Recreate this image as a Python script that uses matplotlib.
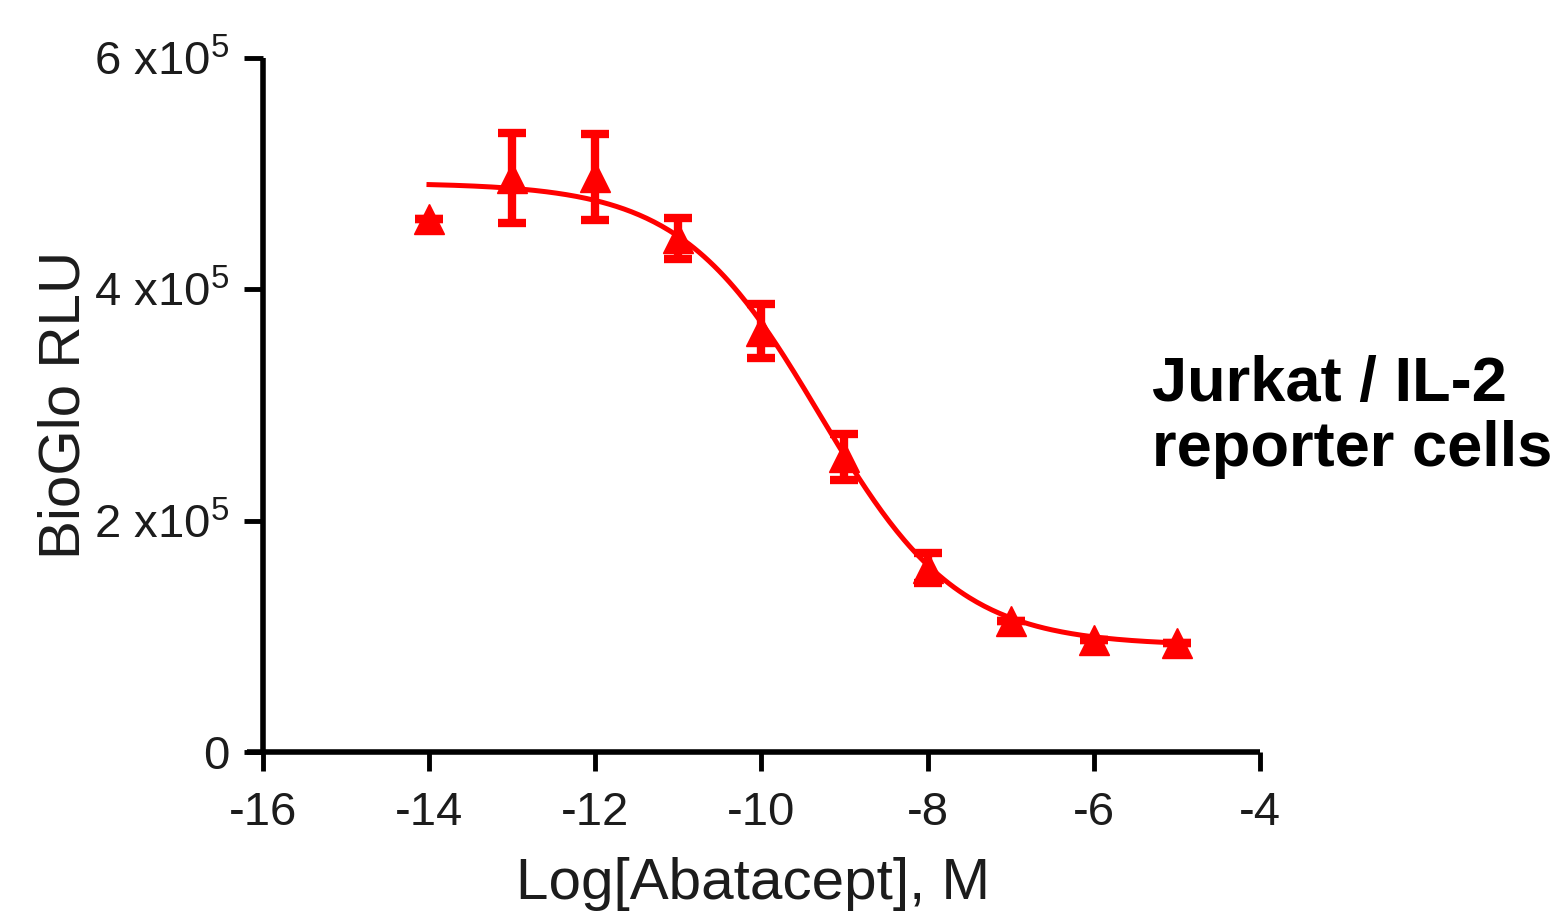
import matplotlib
matplotlib.use("Agg")
import matplotlib.pyplot as plt
import numpy as np

plt.rcParams['font.family'] = ['Liberation Sans', 'DejaVu Sans']
plt.rcParams['mathtext.fontset'] = 'custom'
plt.rcParams['mathtext.rm'] = 'Liberation Sans'
plt.rcParams['mathtext.default'] = 'regular'

# data
log_conc = [-14, -13, -12, -11, -10, -9, -8, -7, -6, -5]
rlu_mean = [4.61e5, 4.96e5, 4.97e5, 4.44e5, 3.64e5, 2.55e5, 1.59e5, 1.13e5, 0.97e5, 0.94e5]
rlu_err = [0, 0.39e5, 0.37e5, 0.18e5, 0.23e5, 0.20e5, 0.13e5, 0, 0, 0]

# 4PL fit parameters (top, bottom, logIC50, hill)
fit_top = 4.92e5
fit_bottom = 0.92e5
fit_logic50 = -9.3
fit_hill = 0.52

xticks = [-16, -14, -12, -10, -8, -6, -4]
xtick_labels = ['-16', '-14', '-12', '-10', '-8', '-6', '-4']
yticks = [0, 2e5, 4e5, 6e5]
ytick_labels = ['0', '2 x10$^5$', '4 x10$^5$', '6 x10$^5$']

red = '#ff0000'
ink = '#1c1c1c'

fig = plt.figure(figsize=(15.6, 9.18), dpi=100)
ax = fig.add_axes([247/1560, 1 - 752/918, (1260-247)/1560, (752-58)/918])

xfit = np.linspace(log_conc[0], log_conc[-1], 300)
yfit = fit_bottom + (fit_top - fit_bottom) / (1 + 10 ** ((xfit - fit_logic50) * fit_hill))
ax.plot(xfit, yfit, color=red, lw=3.6, zorder=2)

ax.errorbar(log_conc, rlu_mean, yerr=rlu_err, fmt='none', ecolor=red,
            elinewidth=6, capsize=10, capthick=6, zorder=3)
ax.plot(log_conc, rlu_mean, '^', color=red, markersize=22, zorder=4, clip_on=False)

ax.set_xlim(-16.19, -4)
ax.set_ylim(0, 6e5)
ax.spines['top'].set_visible(False)
ax.spines['right'].set_visible(False)
ax.spines['left'].set_position(('data', -16))
for s in ['left', 'bottom']:
    ax.spines[s].set_linewidth(4)
    ax.spines[s].set_capstyle('butt')

ax.set_xticks(xticks)
ax.set_xticklabels(xtick_labels)
ax.set_yticks(yticks)
ax.set_yticklabels(ytick_labels)
ax.tick_params(axis='both', length=14, width=3.5, direction='out', labelsize=34, color='black')
ax.tick_params(axis='x', pad=14)
ax.tick_params(axis='y', pad=10)
for lab in ax.get_xticklabels() + ax.get_yticklabels():
    lab.set_color(ink)

ax.set_xlabel('Log[Abatacept], M', fontsize=42, color=ink, labelpad=16)
ax.set_ylabel('BioGlo RLU', fontsize=42, color=ink, labelpad=2)

fig.text(1152/1560, 1 - 401/918, 'Jurkat / IL-2', fontsize=45.5, fontweight='bold',
         ha='left', va='baseline', color='black')
fig.text(1152/1560, 1 - 466/918, 'reporter cells', fontsize=45.5, fontweight='bold',
         ha='left', va='baseline', color='black')

fig.savefig('out.png', dpi=100)
